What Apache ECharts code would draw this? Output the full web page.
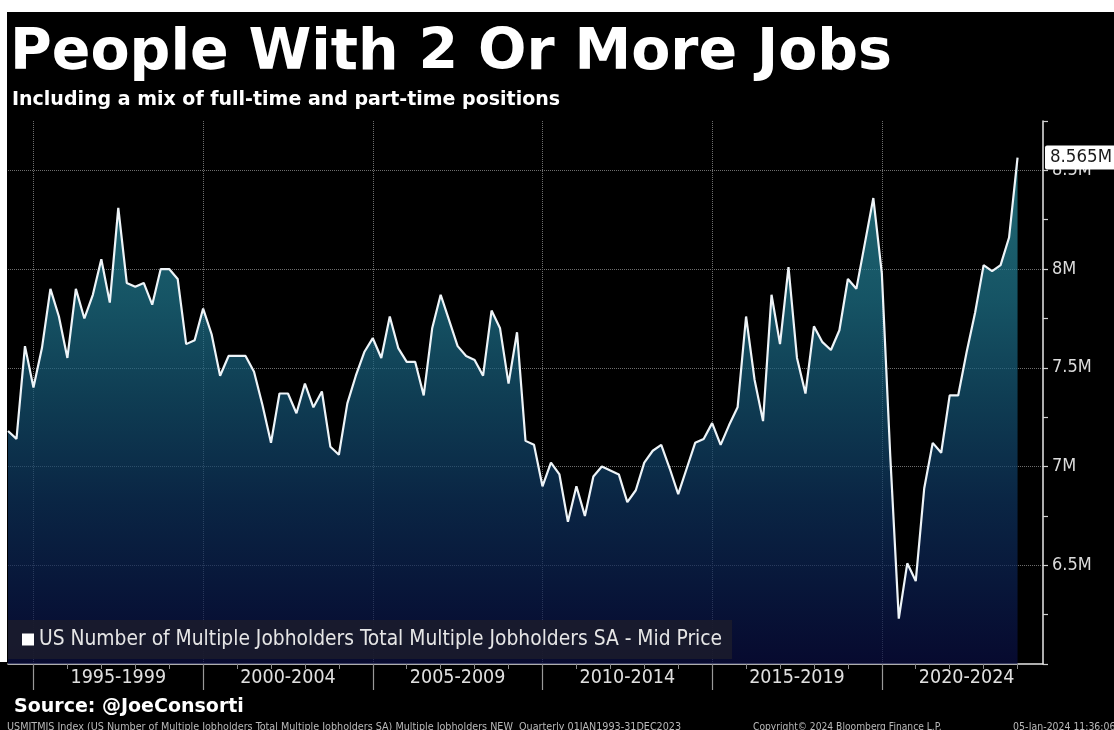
<!DOCTYPE html>
<html>
<head>
<meta charset="utf-8">
<script src="https://cdn.jsdelivr.net/npm/echarts@6/dist/echarts.min.js"></script>
<style>
  html, body { margin: 0; padding: 0; background: #fff; }
  #chart { width: 1114px; height: 730px; }
</style>
</head>
<body>
<div id="chart"></div>
<script>
// ---- DATA ----
const titleText = 'People With 2 Or More Jobs';
const subtitleText = 'Including a mix of full-time and part-time positions';
const seriesName = 'US Number of Multiple Jobholders Total Multiple Jobholders SA - Mid Price';
const sourceText = 'Source: @JoeConsorti';
const footerLeft = 'USMJTMJS Index (US Number of Multiple Jobholders Total Multiple Jobholders SA) Multiple Jobholders NEW  Quarterly 01JAN1993-31DEC2023';
const footerMid = 'Copyright\u00A9 2024 Bloomberg Finance L.P.';
const footerRight = '05-Jan-2024 11:36:06';

// Quarterly categories 1994Q1 .. 2024Q3 (axis runs a little past the data)
const firstYear = 1994;
const lastYear = 2024;
const lastQuarterOnAxis = 3;
const quarters = [];
for (let y = firstYear; y <= lastYear; y++) {
  for (let q = 1; q <= 4; q++) {
    if (y === lastYear && q > lastQuarterOnAxis) break;
    quarters.push(y + 'Q' + q);
  }
}

// Multiple jobholders, millions, 1994Q1 .. 2023Q4
const values = [
  7.18, 7.14, 7.61, 7.40,   // 1994
  7.60, 7.90, 7.76, 7.55,   // 1995
  7.90, 7.75, 7.87, 8.05,   // 1996
  7.83, 8.31, 7.93, 7.91,   // 1997
  7.93, 7.82, 8.00, 8.00,   // 1998
  7.95, 7.62, 7.64, 7.80,   // 1999
  7.67, 7.46, 7.56, 7.56,   // 2000
  7.56, 7.48, 7.31, 7.12,   // 2001
  7.37, 7.37, 7.27, 7.42,   // 2002
  7.30, 7.38, 7.10, 7.06,   // 2003
  7.32, 7.46, 7.58, 7.65,   // 2004
  7.55, 7.76, 7.60, 7.53,   // 2005
  7.53, 7.36, 7.70, 7.87,   // 2006
  7.74, 7.61, 7.56, 7.54,   // 2007
  7.46, 7.79, 7.70, 7.42,   // 2008
  7.68, 7.13, 7.11, 6.90,   // 2009
  7.02, 6.96, 6.72, 6.90,   // 2010
  6.75, 6.95, 7.00, 6.98,   // 2011
  6.96, 6.82, 6.88, 7.02,   // 2012
  7.08, 7.11, 6.99, 6.86,   // 2013
  6.99, 7.12, 7.14, 7.22,   // 2014
  7.11, 7.21, 7.30, 7.76,   // 2015
  7.44, 7.23, 7.87, 7.62,   // 2016
  8.01, 7.55, 7.37, 7.71,   // 2017
  7.63, 7.59, 7.69, 7.95,   // 2018
  7.90, 8.13, 8.36, 7.98,   // 2019
  7.05, 6.23, 6.51, 6.42,   // 2020
  6.89, 7.12, 7.07, 7.36,   // 2021
  7.36, 7.58, 7.78, 8.02,   // 2022
  7.99, 8.02, 8.16, 8.565   // 2023
];

const periodLabels = ['1995-1999', '2000-2004', '2005-2009', '2010-2014', '2015-2019', '2020-2024'];

// ---- CHART ----
const condensed = '"DejaVu Sans Condensed", "DejaVu Sans", sans-serif';
const boldFont = '"DejaVu Sans", Verdana, sans-serif';
const lastIdx = values.length - 1;
const lastVal = values[lastIdx];

function yearOf(cat) { return parseInt(cat.slice(0, 4), 10); }
function qOf(cat) { return parseInt(cat.slice(5), 10); }
function isPeriodBoundary(idx) { // Q4 of 1994, 1999, 2004 ...
  const c = quarters[idx];
  return qOf(c) === 4 && (yearOf(c) + 1) % 5 === 0;
}
function isYearBoundary(idx) { return qOf(quarters[idx]) === 4; }
function isPeriodMiddle(idx) { // mid-point between two boundaries
  const c = quarters[idx];
  return qOf(c) === 2 && (yearOf(c) % 5) === 2;
}
function periodFor(cat) {
  const y = yearOf(cat);
  return periodLabels.find(p => {
    const [a, b] = p.split('-').map(Number);
    return y >= a && y <= b;
  }) || '';
}

const chart = echarts.init(document.getElementById('chart'), null, { renderer: 'canvas' });
chart.setOption({
  animation: false,
  backgroundColor: '#000',
  title: [
    { text: titleText, left: 5, top: 21,
      textStyle: { color: '#fff', fontSize: 57, fontWeight: 'bold', fontFamily: boldFont } },
    { text: subtitleText, left: 7, top: 86,
      textStyle: { color: '#fff', fontSize: 19, fontWeight: 'bold', fontFamily: boldFont } },
    { text: sourceText, left: 9, top: 693,
      textStyle: { color: '#fff', fontSize: 19, fontWeight: 'bold', fontFamily: boldFont } },
    { text: footerLeft, left: 2, top: 717,
      textStyle: { color: '#b8b8b8', fontSize: 10.7, fontWeight: 'normal', fontFamily: condensed } },
    { text: footerMid, left: 748, top: 717,
      textStyle: { color: '#b8b8b8', fontSize: 10.2, fontWeight: 'normal', fontFamily: condensed } },
    { text: footerRight, left: 1008, top: 717,
      textStyle: { color: '#b8b8b8', fontSize: 10.4, fontWeight: 'normal', fontFamily: condensed } }
  ],
  legend: {
    show: true,
    left: 8, top: 620,
    padding: [9, 10, 9, 14],
    backgroundColor: 'rgba(26,27,44,0.92)',
    icon: 'rect',
    itemWidth: 12, itemHeight: 12,
    itemStyle: { color: '#fff' },
    textStyle: { color: '#e6e6e6', fontSize: 20.8, fontFamily: condensed },
    data: [seriesName],
    selectedMode: false
  },
  grid: { left: 8, right: 71, top: 121, bottom: 66, containLabel: false },
  xAxis: [
    {
      type: 'category',
      data: quarters,
      boundaryGap: false,
      axisLine: { show: true, lineStyle: { color: '#e8e8e8', width: 1.5 } },
      axisTick: { show: true, interval: isPeriodBoundary, length: 26, lineStyle: { color: '#9a9a9a', width: 1.2 } },
      axisLabel: {
        show: true, interval: isPeriodMiddle, margin: 4,
        color: '#e0e0e0', fontSize: 19.5, fontFamily: condensed,
        formatter: periodFor
      },
      splitLine: { show: true, interval: isPeriodBoundary, lineStyle: { color: '#6e6e6e', type: 'dotted', width: 1 } }
    },
    {
      type: 'category',
      data: quarters,
      boundaryGap: false,
      position: 'bottom',
      axisLine: { show: false },
      axisTick: { show: true, interval: isYearBoundary, length: 5, lineStyle: { color: '#8a8a8a', width: 1 } },
      axisLabel: { show: false },
      splitLine: { show: false }
    }
  ],
  yAxis: [
    {
      type: 'value', position: 'right',
      min: 6, max: 8.75, interval: 0.5,
      axisLine: { show: true, lineStyle: { color: '#e8e8e8', width: 1.5 } },
      axisTick: { show: false },
      axisLabel: {
        show: true, margin: 9, color: '#dcdcdc', fontSize: 18, fontFamily: condensed,
        formatter: function (v) {
          if (v <= 6 || Math.abs(v * 2 - Math.round(v * 2)) > 1e-6) return '';
          return (Math.round(v * 10) / 10) + 'M';
        }
      },
      splitLine: { show: true, showMinLine: false, showMaxLine: false,
        lineStyle: { color: '#6e6e6e', type: 'dotted', width: 1 } }
    },
    {
      type: 'value', position: 'right',
      min: 6, max: 8.75, interval: 0.25,
      axisLine: { show: false },
      axisTick: { show: true, inside: false, length: 5, lineStyle: { color: '#d0d0d0', width: 1.2 } },
      axisLabel: { show: false },
      splitLine: { show: false }
    }
  ],
  series: [
    {
      name: seriesName,
      type: 'line',
      xAxisIndex: 0,
      yAxisIndex: 0,
      data: values,
      symbol: 'none',
      smooth: false,
      itemStyle: { color: '#ffffff' },
      lineStyle: { color: '#eef4f8', width: 2.2 },
      areaStyle: {
        color: new echarts.graphic.LinearGradient(0, 0, 0, 1, [
          { offset: 0, color: '#2f97a6' },
          { offset: 0.28, color: '#1f7890' },
          { offset: 0.48, color: '#155676' },
          { offset: 0.68, color: '#0e3561' },
          { offset: 0.87, color: '#0b1d50' },
          { offset: 1, color: '#0a0e43' }
        ])
      },
      markLine: {
        silent: true,
        symbol: ['none', 'none'],
        lineStyle: { color: 'rgba(0,0,0,0)', width: 0 },
        label: {
          show: true, position: 'end', distance: 2,
          formatter: function () { return lastVal + 'M'; },
          backgroundColor: '#ffffff', color: '#1a1a1a',
          fontSize: 18.5, fontFamily: condensed,
          padding: [3, 6, 2, 5], borderRadius: 2
        },
        emphasis: { disabled: true },
        data: [[
          { coord: [quarters[lastIdx], lastVal] },
          { coord: [quarters[quarters.length - 1], lastVal] }
        ]]
      }
    }
  ],
  graphic: [
    { type: 'rect', left: 0, top: 0, z: 100, shape: { width: 1114, height: 12 }, style: { fill: '#ffffff' } },
    { type: 'rect', left: 0, top: 0, z: 100, shape: { width: 7, height: 662 }, style: { fill: '#ffffff' } }
  ]
});
</script>
</body>
</html>
